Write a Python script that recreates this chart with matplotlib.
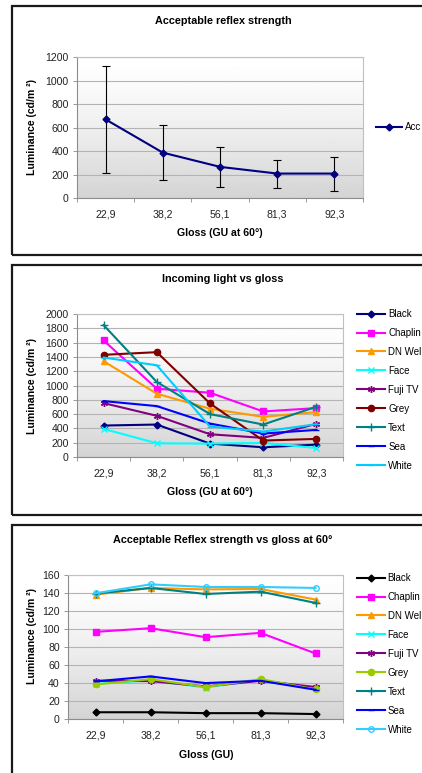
import numpy as np
import matplotlib
matplotlib.use("Agg")
import matplotlib.pyplot as plt
from matplotlib.patches import Rectangle

plt.rcParams['font.family'] = ['Liberation Sans', 'DejaVu Sans']

# ---------------- data ----------------
categories = ["22,9", "38,2", "56,1", "81,3", "92,3"]

# panel 1
accept_mean = [669, 386, 265, 208, 208]
accept_low = [217, 152, 93, 85, 59]
accept_high = [1123, 621, 432, 322, 350]
accept_label = "Acc"

# panel 2 (incoming light)
series_names = ["Black", "Chaplin", "DN Wel", "Face", "Fuji TV", "Grey", "Text", "Sea", "White"]
inc_black = [440, 454, 187, 136, 173]
inc_chaplin = [1630, 955, 899, 637, 684]
inc_dnwel = [1340, 885, 675, 562, 628]
inc_face = [393, 192, 187, 197, 126]
inc_fuji = [754, 576, 318, 267, 464]
inc_grey = [1429, 1466, 749, 230, 253]
inc_text = [1845, 1049, 600, 454, 703]
inc_sea = [782, 712, 468, 328, 379]
inc_white = [1391, 1283, 426, 356, 459]

# panel 3 (acceptable reflex strength)
acc_black = [7.5, 7.5, 6.5, 6.5, 5.5]
acc_chaplin = [96.8, 100.9, 90.9, 95.7, 72.8]
acc_dnwel = [138.2, 145.6, 144.0, 144.5, 132.7]
acc_face = [39, 43, 35, 43.6, 34]
acc_fuji = [42.5, 42.1, 36.2, 42.5, 35.5]
acc_grey = [38.4, 44.3, 35.5, 44.3, 32.9]
acc_text = [139.3, 145.6, 138.9, 141.5, 129]
acc_sea = [41.8, 47.3, 39.9, 42.5, 32.5]
acc_white = [139.7, 149.6, 146.7, 146.7, 145.6]

# ---------------- styles ----------------
W, H = 422, 773
fig = plt.figure(figsize=(W / 100, H / 100), dpi=100)

FS = 7.6
LFS = 7.0
ASTER = (6, 2, 0)
markers = ['D', 's', '^', 'x', ASTER, 'o', '+', '_', '_']
msizes = [3.5, 4.5, 4.5, 4.5, 5, 4.5, 6, 5, 5]
colors2 = ['#000080', '#FF00FF', '#FF9900', '#00FFFF', '#800080', '#800000', '#008080', '#0000FF', '#00CCFF']
colors3 = ['#000000', '#FF00FF', '#FF9900', '#00FFFF', '#800080', '#99CC00', '#008080', '#0000FF', '#33CCFF']
markers3 = ['D', 's', '^', 'x', ASTER, 'o', '+', '_', 'o']


def px_axes(l, t, r, b):
    return fig.add_axes([l / W, 1 - b / H, (r - l) / W, (b - t) / H])


def panel_border(top, bottom):
    fig.add_artist(Rectangle((11.5 / W, 1 - bottom / H), 600 / W, (bottom - top) / H,
                             transform=fig.transFigure, fill=False, lw=1.6, ec='#1a1a1a'))


def style_axes(ax, ymax, ystep):
    grad = 1 - 0.17 * np.linspace(0, 1, 256) ** 1.4
    ax.imshow(grad[:, None], cmap='gray', vmin=0, vmax=1, extent=[0, 1, 0, 1],
              transform=ax.transAxes, aspect='auto', zorder=0, interpolation='bilinear')
    ax.set_xlim(-0.5, len(categories) - 0.5)
    ax.set_ylim(0, ymax)
    ax.set_yticks(np.arange(0, ymax + 1, ystep))
    ax.grid(axis='y', color='#b4b4b4', lw=0.8, zorder=1)
    ax.set_axisbelow(True)
    ax.set_xticks(range(len(categories)))
    ax.set_xticklabels(categories)
    ax.set_xticks(np.arange(-0.5, len(categories), 1.0), minor=True)
    ax.tick_params(axis='x', which='major', length=0, pad=8, labelsize=FS, colors='#222222')
    ax.tick_params(axis='x', which='minor', length=3, width=0.6, color='#888888', direction='out')
    ax.tick_params(axis='y', length=3, width=0.6, color='#888888', pad=3, labelsize=FS,
                   labelcolor='#222222')
    for s in ['top', 'right']:
        ax.spines[s].set_color('#c0c0c0')
        ax.spines[s].set_linewidth(0.8)
    for s in ['left', 'bottom']:
        ax.spines[s].set_color('#8c8c8c')
        ax.spines[s].set_linewidth(0.8)


def labels(title, title_y, xlabel, xlabel_x, xlabel_y, ylabel_y):
    fig.text(223 / W, 1 - title_y / H, title, ha='center', va='center', fontsize=FS + 0.2,
             fontweight='bold')
    fig.text(xlabel_x / W, 1 - xlabel_y / H, xlabel, ha='center', va='center', fontsize=FS,
             fontweight='bold')
    fig.text(32 / W, 1 - ylabel_y / H, "Luminance (cd/m \u00b2)", ha='center', va='center',
             rotation=90, fontsize=FS, fontweight='bold')


x = np.arange(len(categories))

# ---------------- panel 1 ----------------
panel_border(6.5, 255)
ax1 = px_axes(77, 57, 363, 198)
style_axes(ax1, 1200, 200)
mean = np.array(accept_mean)
yerr = [mean - np.array(accept_low), np.array(accept_high) - mean]
ax1.errorbar(x, mean, yerr=yerr, fmt='none', ecolor='black', elinewidth=0.8, capsize=3,
             capthick=0.8, zorder=3)
l1, = ax1.plot(x, mean, color='#000080', marker='D', ms=3.5, lw=1.5, label=accept_label, zorder=4)
ax1.legend(handles=[l1], loc='center left', bbox_to_anchor=(376 / W, 1 - 127 / H),
           bbox_transform=fig.transFigure, frameon=False, fontsize=LFS, handlelength=2.7,
           handletextpad=0.3, borderpad=0, borderaxespad=0)
labels("Acceptable reflex strength", 21, "Gloss (GU at 60\u00b0)", 220, 233, 127)

# ---------------- panel 2 ----------------
panel_border(265, 515)
ax2 = px_axes(77, 314, 343, 457)
style_axes(ax2, 2000, 200)
inc_series = [inc_black, inc_chaplin, inc_dnwel, inc_face, inc_fuji, inc_grey, inc_text, inc_sea, inc_white]
h2 = []
for name, vals, m, ms, c in zip(series_names, inc_series, markers, msizes, colors2):
    ln, = ax2.plot(x, vals, color=c, marker=m, ms=ms, lw=1.5, mew=1.0, label=name, zorder=3)
    h2.append(ln)
ax2.legend(handles=h2, loc='upper left', bbox_to_anchor=(357 / W, 1 - 309 / H),
           bbox_transform=fig.transFigure, frameon=False, fontsize=LFS, handlelength=2.9,
           handletextpad=0.3, labelspacing=0.92, borderpad=0, borderaxespad=0)
labels("Incoming light vs gloss", 279, "Gloss (GU at 60\u00b0)", 210, 492, 386)

# ---------------- panel 3 ----------------
panel_border(525, 900)
ax3 = px_axes(68, 575, 343, 719)
style_axes(ax3, 160, 20)
acc_series = [acc_black, acc_chaplin, acc_dnwel, acc_face, acc_fuji, acc_grey, acc_text, acc_sea, acc_white]
h3 = []
for name, vals, m, ms, c in zip(series_names, acc_series, markers3, msizes, colors3):
    if name == 'White':
        kw = dict(mfc='none', ms=4)
    else:
        kw = dict(ms=ms)
    ln, = ax3.plot(x, vals, color=c, marker=m, lw=1.5, mew=1.0, label=name, zorder=3, **kw)
    h3.append(ln)
ax3.legend(handles=h3, loc='upper left', bbox_to_anchor=(357 / W, 1 - 573 / H),
           bbox_transform=fig.transFigure, frameon=False, fontsize=LFS, handlelength=2.9,
           handletextpad=0.25, labelspacing=0.92, borderpad=0, borderaxespad=0)
labels("Acceptable Reflex strength vs gloss at 60\u00b0", 540, "Gloss (GU)", 206, 755, 636)

fig.savefig("out.png", dpi=100)
